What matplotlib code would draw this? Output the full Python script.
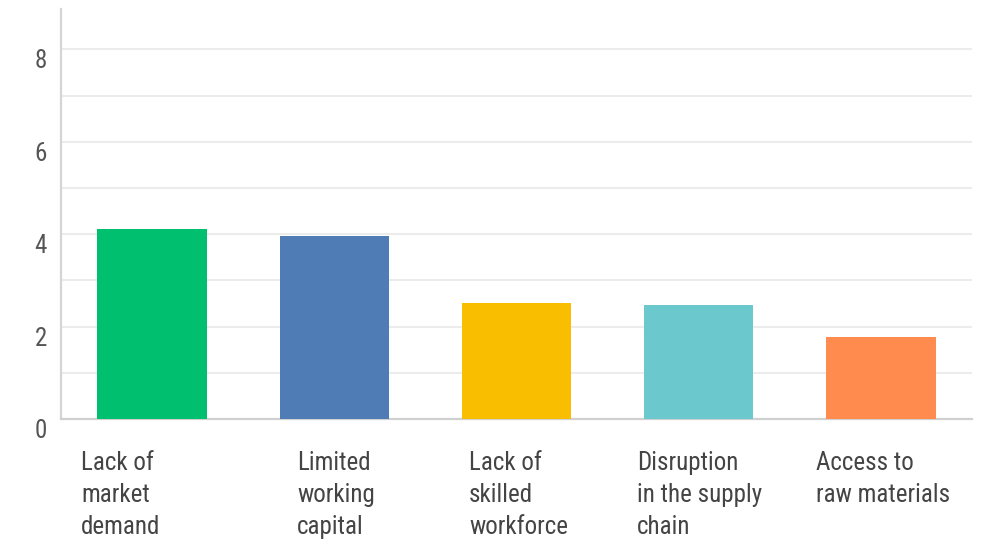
import matplotlib
matplotlib.use("Agg")
import matplotlib.pyplot as plt

categories = ["Lack of\nmarket\ndemand", "Limited\nworking\ncapital", "Lack of\nskilled\nworkforce",
              "Disruption\nin the supply\nchain", "Access to\nraw materials"]
values = [4.11, 3.97, 2.52, 2.47, 1.77]
colors = ["#00bf6f", "#507cb6", "#f9be00", "#6bc8cd", "#ff8b4f"]
yticks = [0, 2, 4, 6, 8]
ytick_labels = ["0", "2", "4", "6", "8"]
# horizontal offset (in category units) of each left-aligned label
label_offsets = [-0.39, -0.205, -0.26, -0.34, -0.356]

FONT = ["Liberation Sans Narrow", "Roboto Condensed", "Roboto", "DejaVu Sans"]

fig = plt.figure(figsize=(9.86, 5.49), dpi=100)
ax = fig.add_axes([61 / 986, 130 / 549, 911 / 986, 410 / 549])

x = list(range(len(categories)))
ax.bar(x, values, width=0.6, color=colors, zorder=3)

ax.set_xlim(-0.5, len(categories) - 0.5)
ax.set_ylim(0, 8.875)

# gridlines at every unit
for v in range(1, 9):
    ax.axhline(v, color="#ececec", linewidth=1.5, zorder=1)

ax.set_yticks(yticks)
ax.set_yticklabels(ytick_labels, family=FONT, fontsize=18, color="#555555", va="top")
ax.tick_params(axis="y", length=0, pad=10)
ax.set_xticks([])

for s in ["top", "right"]:
    ax.spines[s].set_visible(False)
ax.spines["left"].set_color("#d5d5d5")
ax.spines["left"].set_linewidth(1.6)
ax.spines["bottom"].set_color("#d0d0d0")
ax.spines["bottom"].set_linewidth(1.6)

for xi, lab, off in zip(x, categories, label_offsets):
    ax.annotate(lab, xy=(xi + off, 0), xycoords=("data", "axes fraction"),
                xytext=(0, -23), textcoords="offset points",
                ha="left", va="top", fontsize=18, family=FONT,
                color="#444444", linespacing=1.42)

fig.savefig("out.png", dpi=100)
